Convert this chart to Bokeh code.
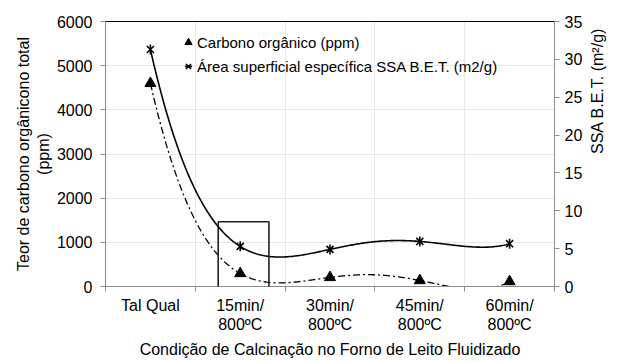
import math
import numpy as np
from bokeh.plotting import figure
from bokeh.models import (Range1d, LinearAxis, FixedTicker, Legend, LegendItem,
                          BoxAnnotation, ColumnDataSource, Grid)
from bokeh.embed import file_html
from bokeh.resources import INLINE

# ---- data ----
categories = ["Tal Qual", "15min/\n800ºC", "30min/\n800ºC", "45min/\n800ºC", "60min/\n800ºC"]
carbono_ppm = [4600, 295, 205, 135, 112]
ssa_m2g = [31.3, 5.3, 4.9, 5.95, 5.65]
left_ticks = [0, 1000, 2000, 3000, 4000, 5000, 6000]
right_ticks = [0, 5, 10, 15, 20, 25, 30, 35]

FONT = "Liberation Sans"
GRAY_AX = "#8c8c8c"
GRID = "#e8e8e8"
FS = "16px"

xpos = [i + 0.5 for i in range(len(categories))]

p = figure(width=617, height=361, output_backend="svg", toolbar_location=None,
           x_range=Range1d(0, 5), y_range=Range1d(0, 6000),
           min_border_left=105, min_border_right=61, min_border_top=21, min_border_bottom=74,
           x_axis_type=None, y_axis_type=None)
p.outline_line_color = None
p.extra_y_ranges = {"ssa": Range1d(0, 35)}

def style_labels(ax):
    ax.major_label_text_font = FONT
    ax.major_label_text_font_size = FS
    ax.major_label_text_color = "black"
    ax.axis_label_text_font = FONT
    ax.axis_label_text_font_size = FS
    ax.axis_label_text_font_style = "normal"
    ax.axis_label_text_color = "black"

# bottom axis: labels at category centres, tick marks at boundaries (minor ticks)
xa = LinearAxis(ticker=FixedTicker(ticks=xpos, minor_ticks=[0, 1, 2, 3, 4, 5]))
xa.major_label_overrides = {x: c for x, c in zip(xpos, categories)}
xa.major_tick_out = 0
xa.major_tick_in = 0
xa.minor_tick_out = 5
xa.minor_tick_in = 0
xa.minor_tick_line_color = GRAY_AX
xa.axis_line_color = GRAY_AX
xa.major_label_standoff = 5
style_labels(xa)
xa.major_label_text_line_height = 1.15
xa.axis_label = "Condição de Calcinação no Forno de Leito Fluidizado"
xa.axis_label_standoff = 5
p.add_layout(xa, "below")

# left axis
ya = LinearAxis(ticker=FixedTicker(ticks=left_ticks))
ya.axis_line_color = GRAY_AX
ya.major_tick_line_color = GRAY_AX
ya.major_tick_out = 5
ya.major_tick_in = 0
ya.minor_tick_line_color = None
ya.major_label_standoff = 8
style_labels(ya)
ya.axis_label = "Teor de carbono orgânicono total\n(ppm)"
ya.axis_label_text_line_height = 1.15
ya.axis_label_standoff = 2
p.add_layout(ya, "left")

# right axis
ra = LinearAxis(y_range_name="ssa", ticker=FixedTicker(ticks=right_ticks))
ra.axis_line_color = GRAY_AX
ra.major_tick_line_color = GRAY_AX
ra.major_tick_out = 5
ra.major_tick_in = 0
ra.minor_tick_line_color = None
ra.major_label_standoff = 5
style_labels(ra)
ra.axis_label = "SSA B.E.T. (m²/g)"
ra.axis_label_standoff = 12
ra.axis_label_orientation = math.pi / 2
p.add_layout(ra, "right")

# top black border line
ta = LinearAxis(ticker=FixedTicker(ticks=[]))
ta.axis_line_color = "black"
ta.major_tick_line_color = None
ta.minor_tick_line_color = None
ta.major_label_text_font_size = "0px"
p.add_layout(ta, "above")

# grids
p.add_layout(Grid(dimension=1, ticker=FixedTicker(ticks=left_ticks[1:-1]), grid_line_color=GRID))
p.add_layout(Grid(dimension=0, ticker=FixedTicker(ticks=[1, 2, 3, 4]), grid_line_color=GRID))

# polynomial (order 4) trendlines
xs = np.linspace(xpos[0], xpos[-1], 300)
c_fit = np.polyval(np.polyfit(xpos, carbono_ppm, 4), xs)
s_fit = np.polyval(np.polyfit(xpos, ssa_m2g, 4), xs)
p.line(xs, c_fit, line_color="black", line_width=1.3, line_dash="7 3 2 3")
p.line(xs, s_fit, line_color="black", line_width=1.6, y_range_name="ssa")

src_c = ColumnDataSource(dict(x=xpos, y=carbono_ppm))
src_s = ColumnDataSource(dict(x=xpos, y=ssa_m2g))
r_tri = p.scatter("x", "y", source=src_c, marker="triangle", size=11,
                  fill_color="black", line_color="black")
r_x = p.scatter("x", "y", source=src_s, y_range_name="ssa", marker="x", size=10,
                line_color="black", line_width=1.6)
r_v = p.scatter("x", "y", source=src_s, y_range_name="ssa", marker="dash", size=10,
                angle=np.pi / 2, line_color="black", line_width=1.6)

# highlight box around 15 min point
box = BoxAnnotation(left=1.255, right=1.82, top=1466, bottom=-7, bottom_units="screen",
                    fill_color=None, fill_alpha=0, line_color="#222222", line_alpha=1,
                    line_width=1.6)
p.add_layout(box)

legend = Legend(items=[LegendItem(label="Carbono orgânico (ppm)", renderers=[r_tri]),
                       LegendItem(label="Área superficial específica SSA B.E.T. (m2/g)",
                                  renderers=[r_x, r_v])],
                location=(74, 211))
legend.border_line_color = None
legend.background_fill_alpha = 0
legend.padding = 0
legend.margin = 0
legend.spacing = 6
legend.glyph_width = 18
legend.glyph_height = 18
legend.label_height = 18
legend.label_standoff = 0
legend.label_text_font = FONT
legend.label_text_font_size = "15px"
legend.label_text_color = "black"
p.add_layout(legend, "center")

open("out.html", "w").write(file_html(p, INLINE))
